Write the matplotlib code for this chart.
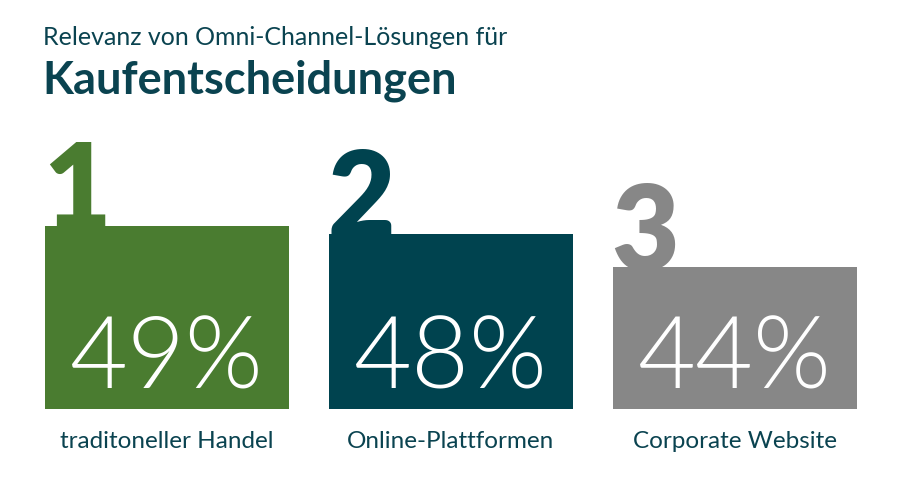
import numpy as np
import matplotlib.pyplot as plt
import matplotlib.transforms as mtransforms

# data
categories = ['traditoneller Handel', 'Online-Plattformen', 'Corporate Website']
values = [49, 48, 44]
ranks = ['1', '2', '3']
colors = ['#4a7c30', '#00434f', '#878787']
title_small = 'Relevanz von Omni-Channel-Lösungen für'
title_big = 'Kaufentscheidungen'
text_color = '#0a4350'

plt.rcParams['font.family'] = ['Lato', 'DejaVu Sans']

fig = plt.figure(figsize=(9, 4.86), dpi=100)
ax = fig.add_axes([0, 77 / 486, 1, 409 / 486])

x = np.arange(len(values))
width = 0.86
ax.bar(x, values, width=width, color=colors, bottom=0)
ax.set_xlim(-0.587, 2.582)
ax.set_ylim(26.9, 76.2)
ax.axis('off')

# rank numbers sitting on top of each bar
for xi, v, r, c in zip(x, values, ranks, colors):
    ax.text(xi - width / 2 - 0.005, v - 0.3, r, ha='left', va='baseline',
            fontsize=84, fontweight='heavy', color=c)

# percentages inside bars and labels below
trans = mtransforms.blended_transform_factory(ax.transData, fig.transFigure)
for xi, v, cat in zip(x, values, categories):
    ax.text(xi, 98 / 486, f'{v}%', ha='center', va='baseline', transform=trans,
            fontsize=72, fontweight=300, color='white')
    ax.text(xi, 38 / 486, cat, ha='center', va='baseline', transform=trans,
            fontsize=17.5, color=text_color)

fig.text(43 / 900, 1 - 45 / 486, title_small, ha='left', va='baseline',
         fontsize=18, color=text_color)
fig.text(42 / 900, 1 - 93 / 486, title_big, ha='left', va='baseline',
         fontsize=32.5, fontweight='bold', color=text_color)

fig.savefig('out.png', dpi=100)
